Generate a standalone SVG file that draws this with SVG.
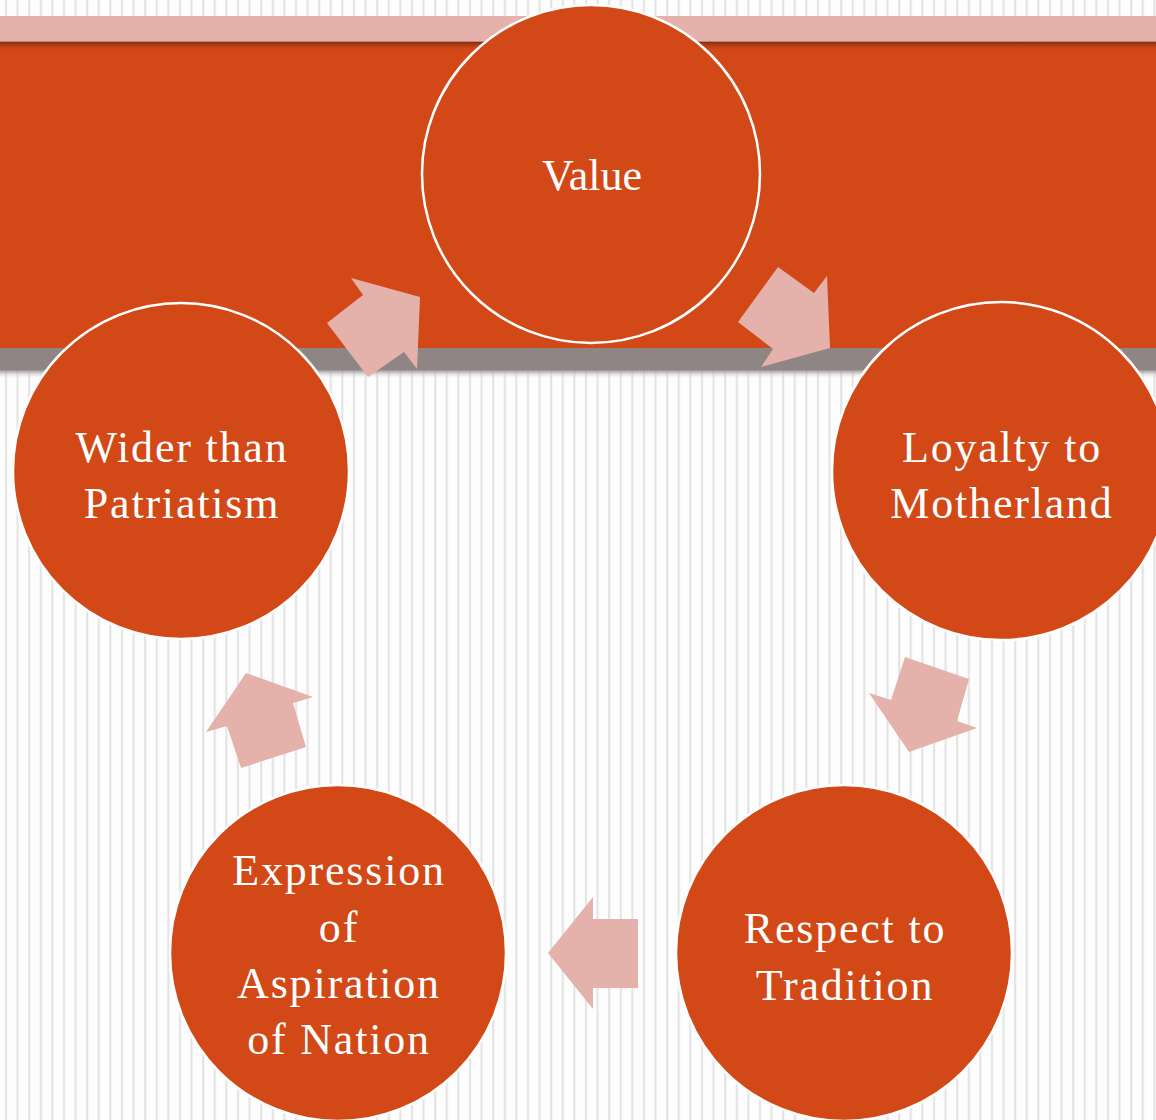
<svg xmlns="http://www.w3.org/2000/svg" width="1156" height="1120" viewBox="0 0 1156 1120">
<style>
.node{fill:#D24817;stroke:#FFFFFF;stroke-width:2.5}
.lbl{font-family:"Liberation Serif",serif;font-size:44px;fill:#FFFFFF;text-anchor:middle;letter-spacing:1.8px}
.arr{fill:#E4B2AB}
</style>
<defs>
<pattern id="stripes" x="0" y="0" width="11.6" height="20" patternUnits="userSpaceOnUse">
<rect x="0" y="0" width="11.6" height="20" fill="#FDFDFD"/>
<rect x="5" y="0" width="2" height="20" fill="#E2E2E2"/>
</pattern>
<linearGradient id="topShadow" x1="0" y1="0" x2="0" y2="1">
<stop offset="0" stop-color="#7A2A0E" stop-opacity="0.9"/>
<stop offset="1" stop-color="#D24817" stop-opacity="0"/>
</linearGradient>
<linearGradient id="grayFade" x1="0" y1="0" x2="0" y2="1">
<stop offset="0" stop-color="#8F8584" stop-opacity="0.9"/>
<stop offset="1" stop-color="#FFFFFF" stop-opacity="0"/>
</linearGradient>
</defs>
<rect x="0" y="0" width="1156" height="1120" fill="url(#stripes)"/>
<rect x="0" y="16" width="1156" height="26" fill="#E4B2AB"/>
<rect x="0" y="41" width="1156" height="1.5" fill="#C08378"/>
<rect x="0" y="42" width="1156" height="306" fill="#D24817"/>
<rect x="0" y="42" width="1156" height="9" fill="url(#topShadow)"/>
<rect x="0" y="348" width="1156" height="22" fill="#8F8584"/>
<rect x="0" y="370" width="1156" height="9" fill="url(#grayFade)"/>
<g id="connectors">
<polygon class="arr" points="778,267 814,293 827,276 830,348 761,367 773,349 738,322"/>
<polygon class="arr" points="905,657 969,679 957,721 977,728 909,752 869,693 891,700"/>
<polygon class="arr" points="638,919 593,919 593,897 548,953 593,1009 593,988 638,988"/>
<polygon class="arr" points="246,673 313,697 293,703 306,747 241,768 227,726 206,732"/>
<polygon class="arr" points="351,278 420,297 417,369 404,352 368,377 327,323 363,295"/>
</g>
<g id="node-value">
<circle class="node" cx="591" cy="174" r="169"/>
<text class="lbl" x="592" y="190" style="letter-spacing:0">Value</text>
</g>
<g id="node-loyalty">
<circle class="node" cx="1001" cy="471" r="169"/>
<text class="lbl" x="1002" y="462">Loyalty to</text>
<text class="lbl" x="1002" y="518">Motherland</text>
</g>
<g id="node-respect">
<circle class="node" cx="844" cy="953" r="168"/>
<text class="lbl" x="845" y="943">Respect to</text>
<text class="lbl" x="845" y="1000">Tradition</text>
</g>
<g id="node-expression">
<circle class="node" cx="338" cy="953" r="168"/>
<text class="lbl" x="339" y="885">Expression</text>
<text class="lbl" x="339" y="942">of</text>
<text class="lbl" x="339" y="998">Aspiration</text>
<text class="lbl" x="339" y="1054">of Nation</text>
</g>
<g id="node-wider">
<circle class="node" cx="181" cy="471" r="168"/>
<text class="lbl" x="182" y="462">Wider than</text>
<text class="lbl" x="182" y="518">Patriatism</text>
</g>
</svg>
